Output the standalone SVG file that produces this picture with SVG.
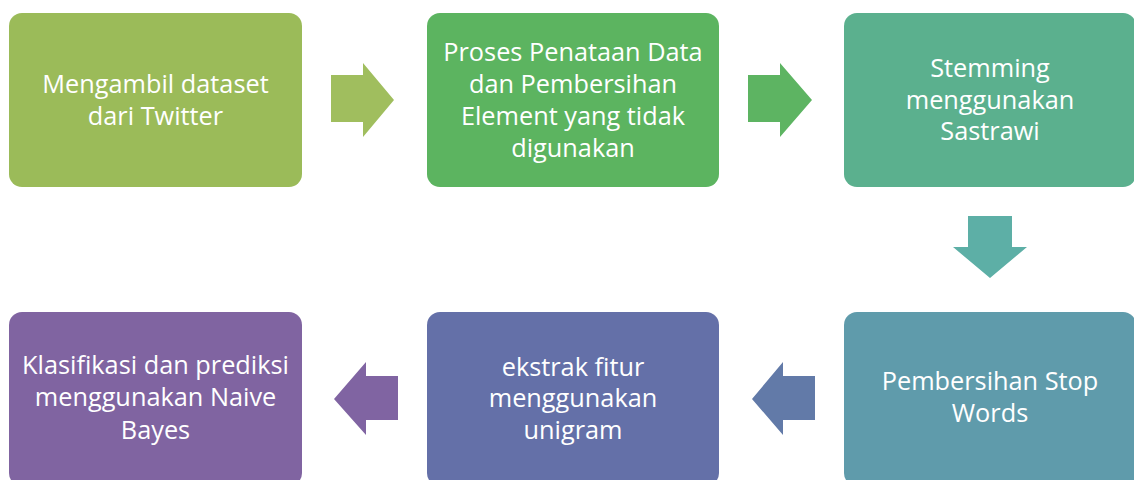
<svg xmlns="http://www.w3.org/2000/svg" width="1134" height="480" viewBox="0 0 1134 480">
<style>
text{font-family:"Open Sans","Liberation Sans",sans-serif;font-size:25.3px;fill:#fff;text-anchor:middle}
</style>
<rect width="1134" height="480" fill="#fff"/>
<g id="connectors">
<polygon points="331,75 363,75 363,63 394,100 363,137 363,122 331,122" fill="#A0BE5E"/>
<polygon points="748,75 780,75 780,63 812,100 780,137 780,122 748,122" fill="#5DB462"/>
<polygon points="968,216 1012,216 1012,247 1027,247 990,278 953,247 968,247" fill="#5DAFA6"/>
<polygon points="815,376 783,376 783,362 752,399 783,435 783,420 815,420" fill="#627AA8"/>
<polygon points="398,376 366,376 366,362 334,399 366,435 366,420 398,420" fill="#8064A2"/>
</g>
<g id="n1"><rect x="9" y="13" width="293" height="174" rx="13" fill="#9BBB59"/>
<text x="155.5" y="93">Mengambil dataset</text><text x="155.5" y="125">dari Twitter</text></g>
<g id="n2"><rect x="427" y="13" width="292" height="174" rx="13" fill="#5CB460"/>
<text x="573" y="61">Proses Penataan Data</text><text x="573" y="93">dan Pembersihan</text><text x="573" y="125">Element yang tidak</text><text x="573" y="157">digunakan</text></g>
<g id="n3"><rect x="844" y="13" width="292" height="174" rx="13" fill="#5BB08E"/>
<text x="990" y="77">Stemming</text><text x="990" y="109">menggunakan</text><text x="990" y="140">Sastrawi</text></g>
<g id="n4"><rect x="844" y="312" width="292" height="174" rx="13" fill="#5F9BAB"/>
<text x="990" y="390">Pembersihan Stop</text><text x="990" y="422">Words</text></g>
<g id="n5"><rect x="427" y="312" width="292" height="174" rx="13" fill="#6470A8"/>
<text x="573" y="376">ekstrak fitur</text><text x="573" y="407">menggunakan</text><text x="573" y="439">unigram</text></g>
<g id="n6"><rect x="9" y="312" width="293" height="174" rx="13" fill="#8064A1"/>
<text x="155.5" y="374">Klasifikasi dan prediksi</text><text x="155.5" y="406">menggunakan Naive</text><text x="155.5" y="439">Bayes</text></g>
</svg>
